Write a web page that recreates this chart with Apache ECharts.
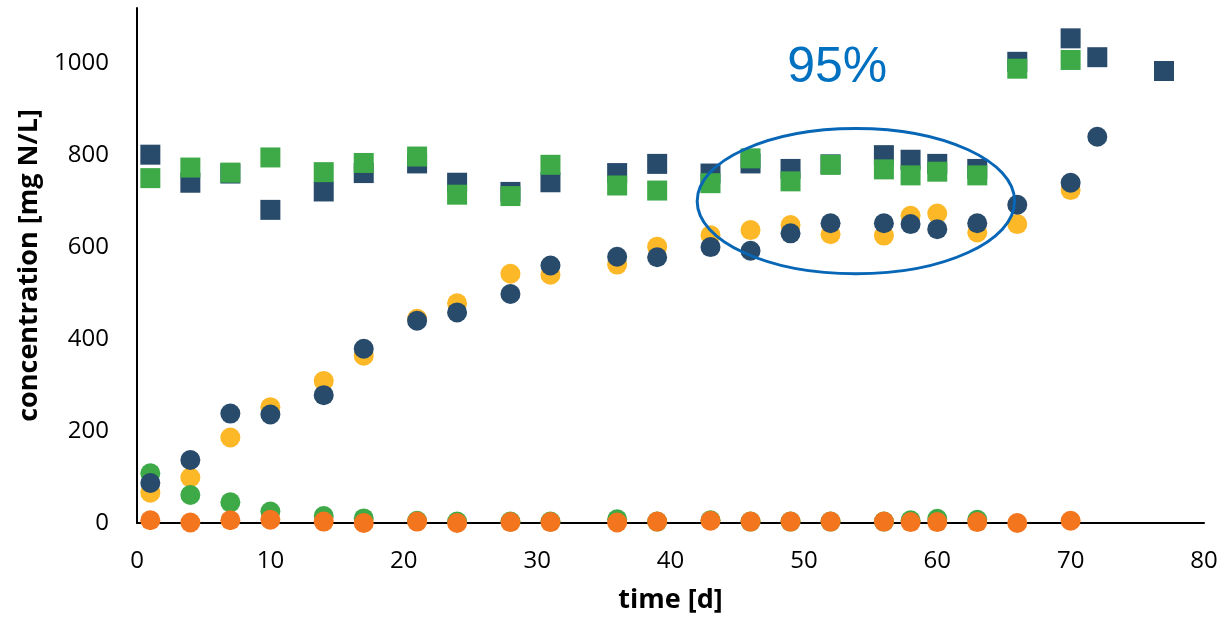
<!DOCTYPE html>
<html>
<head>
<meta charset="utf-8">
<script src="https://cdn.jsdelivr.net/npm/echarts@6/dist/echarts.min.js"></script>
<style>
html,body{margin:0;padding:0;background:#fff;}
#chart{width:1222px;height:625px;}
</style>
</head>
<body>
<div id="chart"></div>
<script>
// ---- data ----
var yTicks = [0, 200, 400, 600, 800, 1000];
var xTicks = [0, 10, 20, 30, 40, 50, 60, 70, 80];

var tSquaresNavy = [1, 4, 7, 10, 14, 17, 21, 24, 28, 31, 36, 39, 43, 46, 49, 52, 56, 58, 60, 63, 66, 70, 72, 77];
var vSquaresNavy = [801, 740, 760, 681, 721, 761, 782, 740, 720, 741, 761, 781, 760, 782, 770, 780, 800, 790, 781, 770, 1003, 1054, 1013, 983];

var tSquaresGreen = [1, 4, 7, 10, 14, 17, 21, 24, 28, 31, 36, 39, 43, 46, 49, 52, 56, 58, 60, 63, 66, 70];
var vSquaresGreen = [750, 773, 762, 795, 763, 783, 797, 714, 711, 779, 734, 723, 739, 793, 743, 779, 769, 756, 764, 756, 988, 1007];

var tCirclesYellow = [1, 4, 7, 10, 14, 17, 21, 24, 28, 31, 36, 39, 43, 46, 49, 52, 56, 58, 60, 63, 66, 70];
var vCirclesYellow = [66, 99, 186, 252, 309, 364, 444, 478, 542, 540, 562, 601, 626, 637, 648, 628, 625, 668, 673, 632, 650, 724];

var tCirclesGreen = [1, 4, 7, 10, 14, 17, 21, 24, 28, 31, 36, 39, 43, 46, 49, 52, 56, 58, 60, 63];
var vCirclesGreen = [108, 61, 45, 25, 15, 10, 5, 3, 3, 3, 8, 3, 6, 3, 3, 3, 3, 6, 9, 7];

var tCirclesNavy = [1, 4, 7, 10, 14, 17, 21, 24, 28, 31, 36, 39, 43, 46, 49, 52, 56, 58, 60, 63, 66, 70, 72];
var vCirclesNavy = [87, 137, 238, 236, 278, 379, 440, 458, 498, 560, 579, 578, 600, 592, 630, 652, 652, 650, 639, 652, 692, 740, 840];

var tCirclesOrange = [1, 4, 7, 10, 14, 17, 21, 24, 28, 31, 36, 39, 43, 46, 49, 52, 56, 58, 60, 63, 66, 70];
var vCirclesOrange = [6, 1, 6, 7, 3, 0, 3, 0, 2, 2, 1, 3, 5, 3, 3, 3, 3, 2, 2, 2, 0, 5];

// annotation (data coords)
var ellipseCenter = [53.9, 700];
var ellipseRadius = [11.9, 158];
var annotationText = '95%';
var annotationPos = [52.5, 990];

var xTitle = 'time [d]';
var yTitle = 'concentration [mg N/L]';

function pairs(t, v) { return t.map(function (x, i) { return [x, v[i]]; }); }

var NAVY = '#284B6C', GREEN = '#3DAA47', YELLOW = '#FDB827', ORANGE = '#F3761F';

var chart = echarts.init(document.getElementById('chart'));

function sc(name, t, v, sym, color) {
  return {
    name: name, type: 'scatter', data: pairs(t, v), symbol: sym, symbolSize: 20,
    itemStyle: { color: color, opacity: 1 }, clip: false, animation: false
  };
}

chart.setOption({
  animation: false,
  backgroundColor: '#fff',
  grid: { left: 137, right: 18, top: 8, bottom: 102, containLabel: false },
  xAxis: {
    type: 'value', min: 0, max: 80, interval: 10,
    name: xTitle, nameLocation: 'middle', nameGap: 64,
    nameTextStyle: { fontFamily: 'Open Sans', fontWeight: 'bold', fontSize: 27, color: '#000' },
    axisLine: { show: true, onZero: false, lineStyle: { color: '#000', width: 2 } },
    axisTick: { show: false },
    splitLine: { show: false },
    axisLabel: {
      fontFamily: 'Open Sans', fontSize: 24, color: '#000', margin: 26,
      formatter: function (v) { return xTicks.indexOf(v) >= 0 ? String(v) : ''; }
    }
  },
  yAxis: {
    type: 'value', min: 0, max: 1120, interval: 200,
    name: yTitle, nameLocation: 'middle', nameGap: 93, nameRotate: 90,
    nameTextStyle: { fontFamily: 'Open Sans', fontWeight: 'bold', fontSize: 27, color: '#000' },
    axisLine: { show: true, lineStyle: { color: '#000', width: 2 } },
    axisTick: { show: false },
    splitLine: { show: false },
    axisLabel: {
      fontFamily: 'Open Sans', fontSize: 24, color: '#000', margin: 28,
      showMaxLabel: false,
      formatter: function (v) { return yTicks.indexOf(v) >= 0 ? String(v) : ''; }
    }
  },
  series: [
    sc('TN in', tSquaresNavy, vSquaresNavy, 'rect', NAVY),
    sc('NH4 in', tSquaresGreen, vSquaresGreen, 'rect', GREEN),
    sc('NO3 out', tCirclesYellow, vCirclesYellow, 'circle', YELLOW),
    sc('NH4 out', tCirclesGreen, vCirclesGreen, 'circle', GREEN),
    sc('TN out', tCirclesNavy, vCirclesNavy, 'circle', NAVY),
    sc('NO2 out', tCirclesOrange, vCirclesOrange, 'circle', ORANGE)
  ]
});

var c = chart.convertToPixel({ gridIndex: 0 }, ellipseCenter);
var e = chart.convertToPixel({ gridIndex: 0 }, [ellipseCenter[0] + ellipseRadius[0], ellipseCenter[1] + ellipseRadius[1]]);
var a = chart.convertToPixel({ gridIndex: 0 }, annotationPos);

chart.setOption({
  graphic: [
    {
      type: 'ellipse', shape: { cx: c[0], cy: c[1], rx: Math.abs(e[0] - c[0]), ry: Math.abs(c[1] - e[1]) },
      style: { fill: 'none', stroke: '#0766B5', lineWidth: 3 }, z: 100
    },
    {
      type: 'text', x: a[0], y: a[1],
      style: { text: annotationText, fill: '#0070C0', font: '50px "Liberation Sans", Arial, sans-serif', textAlign: 'center', textVerticalAlign: 'middle' },
      z: 100
    }
  ]
});
</script>
</body>
</html>
